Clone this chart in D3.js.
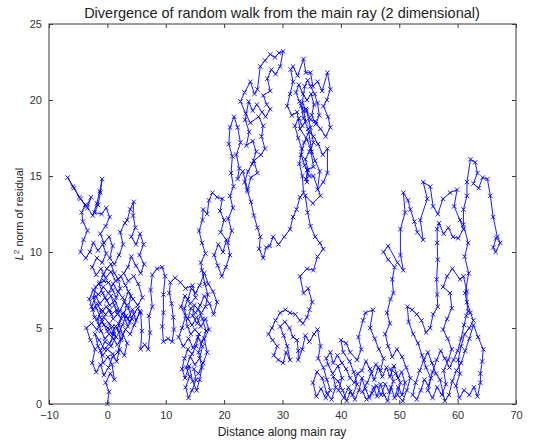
<!DOCTYPE html>
<html><head><meta charset="utf-8">
<script src="https://cdn.jsdelivr.net/npm/d3@7"></script>
<style>html,body{margin:0;padding:0;background:#fff;}svg{display:block;}</style>
</head><body>
<svg id="chart" width="544" height="440"></svg>
<script>
// ---- data: random walk, [distance along main ray, L2 norm of residual] ----
const title = "Divergence of random walk from the main ray (2 dimensional)";
const xLabel = "Distance along main ray";
const xTicks = [-10, 0, 10, 20, 30, 40, 50, 60, 70];
const yTicks = [0, 5, 10, 15, 20, 25];

const leftA = [[0,0],[0.3,0.8],[-0.3,1.4],[0.5,2.0],[1.2,1.6],[0.8,2.6],[0.1,3.1],[-0.7,2.7],[-1.2,3.5],[-0.4,4.1],[0.6,3.8],[1.5,4.4],[0.9,5.1],[0.0,4.8],[-0.9,5.4],[-1.8,4.9],[-2.7,5.3],[-3.6,5.0],[-2.9,4.2],[-2.1,3.6],[-2.6,2.7],[-1.9,2.1],[-1.2,2.6],[-0.6,1.9],[0.2,2.4],[0.9,3.1],[1.8,3.4],[2.3,4.2],[1.7,5.0],[2.4,5.6],[1.6,6.2],[0.7,5.9],[-0.2,6.4],[-1.0,6.0],[-1.7,6.6],[-2.5,6.2],[-3.1,6.9],[-2.4,7.5],[-1.5,7.2],[-0.7,7.7],[0.2,7.3],[1.0,7.9],[1.8,7.4],[2.6,7.0],[3.3,6.5],[2.8,5.8],[3.5,5.1],[4.2,5.6],[3.6,6.3],[4.0,7.1],[3.1,7.8],[2.3,8.4],[1.4,8.1],[0.6,8.7],[-0.3,8.3],[-1.1,8.9],[-1.9,8.5],[-2.6,9.0],[-1.8,9.6],[-0.9,9.3],[-0.2,9.9],[-0.8,10.5],[-1.6,10.1],[-2.4,10.6],[-3.0,10.0],[-3.7,9.6],[-4.6,10.0],[-4.1,10.8],[-3.4,11.4],[-4.2,12.0],[-4.4,12.6]];
const leftTop = [[-3.8,13.1],[-4.8,13.6],[-5.9,14.3],[-6.8,14.9],[-5.7,14.2],[-4.6,13.5],[-3.6,13.0],[-2.8,13.6],[-3.4,12.9],[-2.5,12.4],[-1.8,13.2],[-1.3,14.0],[-0.9,14.8],[-1.2,13.9],[-1.6,13.1],[-2.2,12.6],[-1.0,12.5],[-0.2,12.9],[0.4,12.3],[-0.3,11.7],[-1.2,11.2],[-0.6,10.6],[0.3,11.0],[0.9,10.4],[0.4,9.6],[1.2,9.2],[2.0,9.8],[2.7,10.5],[2.2,11.3],[3.0,11.9],[3.4,12.1],[3.9,12.8],[4.5,13.3],[4.4,12.4],[4.8,11.6],[4.1,11.0],[4.9,10.5],[5.6,11.2],[6.2,10.5],[5.5,9.8],[6.3,9.2],[5.7,8.6],[4.9,9.1],[4.1,9.7],[3.5,9.0],[2.8,8.6],[3.6,8.1],[4.5,8.4],[5.3,7.9],[6.0,7.0]];
const leftB = [[5.2,6.5],[4.4,6.9],[3.6,7.4],[2.9,6.7],[2.1,6.1],[1.3,6.8],[0.4,6.5],[-0.4,7.0],[-1.3,6.6],[-2.0,7.1],[-2.7,6.4],[-2.2,5.7],[-1.4,5.2],[-0.6,5.7],[0.3,5.3],[1.1,4.6],[0.4,4.0],[-0.5,3.6],[-1.4,4.2],[-2.1,4.6],[-1.6,3.8],[-0.8,3.2],[0.0,3.6],[0.9,3.3],[1.6,2.8],[2.1,3.6],[2.9,3.2],[3.4,4.0],[2.6,4.6],[1.9,5.3],[2.7,6.0],[3.5,5.6],[4.3,6.2],[4.9,5.5],[5.6,6.1]];
const leftC = [[4.6,5.2],[3.9,4.6],[3.1,4.9],[2.4,4.3],[1.7,3.9],[1.0,4.3],[0.3,4.6],[-0.4,4.3],[-1.1,4.8],[-1.7,5.6],[-1.0,6.2],[-0.3,5.9],[0.4,6.2],[1.0,5.6],[1.7,5.9],[1.2,6.5],[0.6,7.1],[-0.1,6.8],[-0.8,7.3],[-1.4,7.9],[-0.6,8.1],[0.2,8.0],[0.9,7.5],[1.5,7.0],[2.2,7.6],[1.9,8.2],[1.2,8.6],[0.6,9.2],[-0.1,8.9],[-0.7,8.5],[-1.3,8.0],[-2.0,7.7],[-2.4,7.0],[-1.9,6.3],[-1.2,5.7],[-0.6,5.2],[0.1,5.0],[0.8,4.6],[1.4,5.1],[2.0,4.7],[2.6,5.2],[3.2,5.8],[3.8,5.4],[4.5,5.9],[5.2,6.3]];
const midLoops = [[5.7,6.0],[5.9,4.8],[5.7,3.6],[6.4,3.9],[7.0,3.6],[7.3,4.7],[7.1,5.8],[7.7,6.4],[7.4,7.5],[7.7,8.5],[8.5,8.9],[9.4,9.0],[9.9,8.4],[9.6,7.2],[9.6,6.0],[9.4,5.1],[9.6,4.1],[10.4,4.3],[11.1,4.1],[11.4,4.9],[11.3,5.7],[11.0,6.6],[10.6,7.3],[10.8,8.0],[11.6,8.3],[12.5,8.0],[13.4,7.6],[14.6,7.8]];
const cluster15 = [[15.1,7.0],[14.2,6.6],[13.3,7.1],[12.6,6.4],[13.4,5.8],[12.8,5.0],[12.2,4.4],[13.0,3.8],[13.9,4.3],[14.7,3.7],[15.5,4.4],[16.3,3.8],[15.8,3.0],[15.0,2.6],[14.2,3.1],[13.5,2.4],[14.1,1.8],[13.4,1.1],[13.9,0.4],[14.5,0.9],[15.2,1.6],[14.8,2.3],[15.6,2.0],[16.4,2.7],[17.1,3.4],[16.6,4.3],[17.4,4.9],[16.8,5.6],[16.0,5.1],[15.3,5.7],[14.5,5.2],[13.8,5.6],[14.3,6.3],[15.1,6.0],[15.9,6.5],[16.6,7.1],[17.5,6.6],[18.2,5.9],[18.8,6.7],[18.1,7.4],[17.3,7.9],[16.6,8.6]];
const cluster15b = [[15.8,7.8],[15.1,7.3],[14.4,7.6],[13.8,6.9],[13.2,6.3],[13.7,5.1],[14.3,4.6],[15.0,4.9],[15.7,4.6],[15.2,3.8],[14.5,3.3],[13.8,3.6],[13.2,3.0],[12.8,2.3],[13.3,1.7],[14.0,2.5],[14.6,1.5],[15.3,0.9],[15.8,1.6],[16.2,2.4],[15.6,3.4],[16.2,4.1],[16.9,4.8],[16.3,5.6],[15.6,6.2],[14.9,6.5],[14.6,5.8],[15.4,5.3],[16.1,6.0],[16.8,6.4],[17.2,7.2],[16.7,7.9],[16.2,8.8]];
const branch = [[16.0,9.3],[16.8,9.9],[16.2,10.6],[15.7,11.4],[16.3,12.1],[16.4,12.8],[17.1,12.5],[17.4,13.4],[18.0,13.9],[18.8,13.6],[19.7,13.5],[19.3,12.7],[20.0,12.1],[19.4,11.3],[20.4,10.8],[19.8,10.0],[19.0,10.5],[18.3,9.8],[18.9,9.1],[19.6,8.4],[20.3,9.0],[21.0,9.8],[20.6,10.6],[21.3,11.4],[20.7,12.2],[21.5,12.9],[21.0,13.7],[21.6,14.3]];
const leftPeak = [[21.2,15.2],[21.4,16.3],[20.8,17.1],[21.0,18.2],[21.7,18.9],[22.3,18.2],[22.8,17.2],[22.1,16.4],[22.6,15.5],[22.3,14.8],[23.2,15.3],[24.0,14.1],[24.6,14.9],[25.7,15.2],[25.1,16.0],[26.3,16.4],[27.0,16.8],[26.4,17.6],[26.7,18.3],[25.9,18.9],[24.5,18.5],[23.7,19.1],[22.8,19.9],[23.5,20.5],[24.5,21.2],[25.2,20.4],[25.7,20.7],[26.2,22.2],[27.0,22.6],[27.9,23.0],[28.7,22.8],[29.4,23.1],[30.1,23.2],[29.6,22.2],[28.8,21.7],[28.1,22.0],[27.4,21.4],[27.9,20.6],[26.7,20.3],[27.3,19.7],[27.9,19.4],[27.1,18.9],[26.5,19.2],[25.6,19.7],[24.9,19.3],[24.2,19.9],[23.6,18.7],[24.3,17.9],[23.8,17.0],[24.9,17.3],[25.5,16.6],[24.8,15.8],[24.1,15.3],[23.5,14.6],[24.0,14.0]];
const vPath = [[24.6,13.3],[25.1,12.4],[25.7,11.6],[26.2,11.0],[26.0,10.2],[26.7,9.6],[27.2,10.3],[27.8,10.4],[28.4,11.0],[29.3,10.5],[30.3,11.0],[31.3,11.5],[31.8,12.3],[32.4,12.8],[33.0,13.6],[33.6,13.9]];
const rightPeakB = [[33.4,15.0],[32.9,15.8],[33.3,16.8],[32.7,17.5],[32.1,18.3],[32.8,18.8],[33.4,18.3],[34.0,18.6],[33.6,19.3],[32.9,19.9],[32.3,20.5],[32.8,21.0],[33.5,20.4],[34.2,20.0],[34.9,20.4],[35.4,19.7],[35.0,19.0],[35.7,18.4],[36.3,19.0],[36.0,19.8],[35.5,20.4],[34.8,20.9],[34.3,21.3],[33.8,20.9],[33.4,19.8],[34.1,19.3],[34.8,18.2],[35.3,17.2],[34.6,16.6],[33.9,16.1],[34.4,15.4],[34.0,14.8]];
const rightPeak = [[34.2,14.6],[34.2,15.4],[35.3,15.6],[34.8,16.8],[34.2,17.4],[33.0,18.1],[32.5,19.2],[31.6,19.0],[30.8,19.6],[31.3,20.4],[31.8,21.2],[31.4,22.0],[31.8,22.2],[32.6,21.6],[33.6,22.7],[34.0,21.8],[34.8,21.8],[35.2,20.9],[36.0,21.2],[36.8,20.6],[37.7,21.8],[38.2,20.7],[37.6,20.0],[37.0,19.6],[37.8,18.9],[38.2,18.2],[37.4,17.6],[36.5,18.1],[35.6,18.6],[34.8,18.7],[34.0,19.4],[33.2,19.6],[33.6,18.8],[34.4,18.1],[35.3,17.6],[36.1,17.1],[36.9,16.4],[37.7,16.8],[37.7,15.2],[37.0,14.6],[36.0,14.1],[36.4,15.3],[35.6,16.0],[35.0,16.6],[34.5,17.9],[33.7,17.2],[33.2,16.4],[33.8,15.7],[34.6,15.0],[35.3,15.0],[36.5,13.7],[35.2,13.2],[33.9,13.7]];
const downStream = [[34.3,12.6],[34.8,11.7],[35.6,11.0],[36.4,10.6],[37.0,10.2],[36.0,9.7],[35.3,8.8],[34.2,8.9],[33.0,8.4],[33.6,7.3],[34.4,7.6],[35.1,6.7],[34.6,6.2],[34.2,5.7],[33.5,5.3],[33.0,5.5]];
const lowMid = [[32.2,5.9],[31.3,6.0],[30.5,6.2],[29.6,6.0],[28.8,5.5],[28.2,5.0],[27.6,4.6],[28.3,4.2],[29.1,3.8],[28.5,3.2],[29.3,2.9],[30.1,2.7],[30.6,3.4],[31.3,2.9],[30.8,3.8],[30.2,4.5],[29.6,5.1],[30.4,5.4],[31.2,5.0],[31.8,4.4],[32.5,4.2],[32.7,3.5],[32.7,2.9],[33.4,3.6],[33.9,4.5],[34.6,4.1]];
const downStream2 = [[35.4,4.6],[36.0,4.9],[36.5,3.8],[36.1,3.0],[37.0,2.4],[37.6,1.6],[38.2,0.9],[37.4,0.4],[36.6,1.0],[35.8,0.5],[35.2,1.4],[35.9,2.1],[36.8,1.7]];
const bottomB = [[37.6,0.7],[38.4,0.3],[39.1,1.1],[38.7,1.8],[39.5,1.5],[40.3,0.9],[41.0,0.2],[41.6,0.8],[42.4,0.3],[43.1,0.9],[43.6,1.7],[44.2,1.0],[44.9,0.4],[45.6,1.1],[46.2,0.5],[46.8,1.3],[47.4,0.6],[48.0,0.2],[48.6,1.1],[49.2,0.4],[49.8,1.1],[50.5,0.6],[51.0,1.4],[50.4,2.1],[49.8,1.7],[49.1,2.5],[48.4,1.8],[47.8,2.4],[47.1,1.8],[46.4,2.4],[45.7,1.6],[45.0,2.3],[44.3,2.8],[43.6,2.2],[42.9,2.0],[42.3,1.4],[41.6,1.7],[40.9,2.3],[40.2,2.7],[39.4,3.2],[38.7,2.7],[38.2,3.4],[37.5,3.0]];
const bottomA = [[37.8,2.6],[38.6,2.0],[39.5,2.5],[40.2,1.7],[39.6,0.9],[40.5,0.4],[41.3,1.1],[42.0,0.6],[42.8,1.3],[42.2,2.1],[41.5,2.8],[40.4,3.4],[40.0,4.2],[40.9,4.0],[41.6,3.4],[42.8,2.9],[43.5,3.6],[43.0,4.4],[43.8,5.5],[44.2,6.0],[45.5,6.2],[45.0,5.0],[45.8,4.3],[46.5,3.6],[47.3,3.0],[46.8,2.2],[46.0,2.6],[45.2,2.0],[44.5,1.4],[43.7,0.8],[44.4,0.3],[45.3,0.7],[46.1,1.2],[46.9,0.6],[47.6,1.3],[48.3,0.8],[49.0,1.5],[48.5,2.3],[49.4,2.0],[50.2,1.4],[49.7,0.6],[50.6,0.2],[51.3,0.9],[51.9,1.7],[51.2,2.4],[50.5,3.1],[49.6,3.6],[48.8,3.1],[48.1,3.8],[47.6,4.6],[48.4,5.3],[47.9,6.0],[48.5,6.9]];
const upStream = [[49.0,7.3],[48.8,8.2],[49.2,9.0],[48.1,9.5],[47.3,10.0],[48.1,10.4],[49.7,9.3],[50.7,8.8],[50.2,9.8],[50.2,11.5],[51.0,12.6],[50.7,13.9],[51.5,13.4],[51.9,12.8],[52.6,12.0],[53.1,11.3],[54.1,10.8],[53.6,12.1],[54.8,13.5],[54.1,14.6],[55.3,14.3],[55.8,13.0],[56.6,12.5],[57.5,13.5],[58.7,13.9],[59.9,14.1],[59.4,13.0],[60.4,12.1],[61.0,11.5],[60.1,10.9],[59.2,11.0],[58.4,11.6],[57.6,11.2],[56.8,11.9],[56.5,11.5]];
const down56 = [[56.5,10.6],[56.6,9.5],[56.4,8.2],[56.5,7.2],[56.6,6.4],[55.8,5.9],[55.3,5.0],[54.6,4.7],[53.8,5.5],[53.0,5.9],[52.2,6.2],[51.4,6.4],[51.6,5.4],[52.4,4.6],[53.2,4.0],[53.9,3.2],[54.6,2.4],[55.4,1.7],[54.9,0.9],[55.7,0.4],[56.5,1.1],[57.3,0.6],[58.0,1.3],[57.6,2.2],[58.4,2.9],[59.0,3.6],[58.3,4.3],[57.5,4.9],[58.2,5.6],[59.0,6.3],[58.7,7.3],[57.5,7.7],[58.2,8.4]];
const rightStream = [[59.1,8.9],[60.4,8.2],[61.0,8.4],[61.6,7.4],[61.6,6.7],[62.2,6.0],[62.7,5.5],[62.0,5.0],[61.2,4.6],[60.6,3.8],[60.1,2.9],[60.4,2.0],[59.7,1.2],[60.3,0.4],[61.1,0.9],[62.0,0.6],[62.8,1.1],[63.4,0.5],[63.9,1.4],[63.9,2.0],[64.2,2.8],[64.4,3.6],[63.5,4.4],[62.7,5.2]];
const bottomC = [[62.0,4.3],[61.3,3.5],[60.6,2.7],[59.8,2.2],[59.1,1.5],[58.5,0.6],[57.8,0.2],[57.0,1.6],[56.3,2.0],[55.6,2.7],[54.9,3.4],[54.2,2.9],[53.5,2.2],[52.8,1.4],[52.3,0.6],[53.0,0.3],[53.7,0.9],[54.3,1.6],[55.0,1.2],[55.7,2.1],[56.4,2.9],[57.1,3.5],[57.8,3.0],[58.6,2.4],[59.3,2.9],[60.0,3.5],[60.6,4.3],[61.1,5.2],[61.5,5.8]];
const topRight = [[61.8,6.1],[61.3,7.3],[61.9,8.6],[61.2,9.7],[61.8,10.6],[61.0,11.8],[61.0,12.8],[61.6,13.7],[61.6,14.6],[62.2,16.1],[63.0,15.9],[63.4,15.2],[62.7,14.5],[63.6,14.2],[64.3,14.9],[65.1,14.8],[65.6,13.7],[66.1,12.3],[66.8,11.0],[67.3,10.6],[66.5,10.0],[66.1,10.3],[66.6,10.9]];

const walk = [].concat(leftA, leftTop, leftB, leftC, midLoops, cluster15, cluster15b, branch, leftPeak, vPath,
  rightPeakB, rightPeak, downStream, lowMid, downStream2, bottomB, bottomA, upStream, down56, rightStream, bottomC, topRight);

// ---- drawing ----
const svg = d3.select("#chart");
const m = {left: 49, right: 516, top: 24, bottom: 404};
const x = d3.scaleLinear().domain([-10, 70]).range([m.left, m.right]);
const y = d3.scaleLinear().domain([0, 25]).range([m.bottom, m.top]);
const font = "'Liberation Sans', Arial, Helvetica, sans-serif";
const axisColor = "#3a3a3a";

const g = svg.append("g");
const line = d3.line().x(d => x(d[0])).y(d => y(d[1]));
g.append("path").datum(walk).attr("d", line)
  .attr("fill", "none").attr("stroke", "#0000ff").attr("stroke-width", 0.9)
  .attr("stroke-linejoin", "round");
g.selectAll("path.mk").data(walk).enter().append("path").attr("class", "mk")
  .attr("transform", d => `translate(${x(d[0])},${y(d[1])})`)
  .attr("d", "M-2.2,-2.2L2.2,2.2M-2.2,2.2L2.2,-2.2")
  .attr("stroke", "#0000ff").attr("stroke-width", 0.9).attr("fill", "none");

function styleAxis(sel) {
  sel.select(".domain").remove();
  sel.selectAll("line").attr("stroke", axisColor);
  sel.selectAll("text").attr("font-family", font).attr("font-size", 11).attr("fill", "#333");
}
svg.append("g").attr("transform", `translate(0,${m.bottom})`)
  .call(d3.axisBottom(x).tickValues(xTicks).tickSize(-4).tickPadding(7).tickFormat(d3.format("d")))
  .call(styleAxis);
svg.append("g").attr("transform", `translate(0,${m.top})`)
  .call(d3.axisTop(x).tickValues(xTicks).tickSize(-4).tickFormat(""))
  .call(styleAxis);
svg.append("g").attr("transform", `translate(${m.left},0)`)
  .call(d3.axisLeft(y).tickValues(yTicks).tickSize(-4).tickPadding(7).tickFormat(d3.format("d")))
  .call(styleAxis);
svg.append("g").attr("transform", `translate(${m.right},0)`)
  .call(d3.axisRight(y).tickValues(yTicks).tickSize(-4).tickFormat(""))
  .call(styleAxis);
svg.append("rect").attr("x", m.left).attr("y", m.top)
  .attr("width", m.right - m.left).attr("height", m.bottom - m.top)
  .attr("fill", "none").attr("stroke", axisColor).attr("stroke-width", 1);

svg.append("text").attr("x", 282).attr("y", 18)
  .attr("text-anchor", "middle").attr("font-family", font).attr("font-size", 14.5)
  .attr("fill", "#222").text(title);
svg.append("text").attr("x", 282).attr("y", 436)
  .attr("text-anchor", "middle").attr("font-family", font).attr("font-size", 12)
  .attr("fill", "#222").text(xLabel);
const yl = svg.append("text").attr("transform", `translate(23,${(m.top + m.bottom) / 2}) rotate(-90)`)
  .attr("text-anchor", "middle").attr("font-family", font).attr("font-size", 11).attr("fill", "#222");
yl.append("tspan").attr("font-style", "italic").text("L");
yl.append("tspan").attr("dy", -4).attr("font-size", 8).text("2");
yl.append("tspan").attr("dy", 4).text(" norm of residual");
</script>
</body></html>
